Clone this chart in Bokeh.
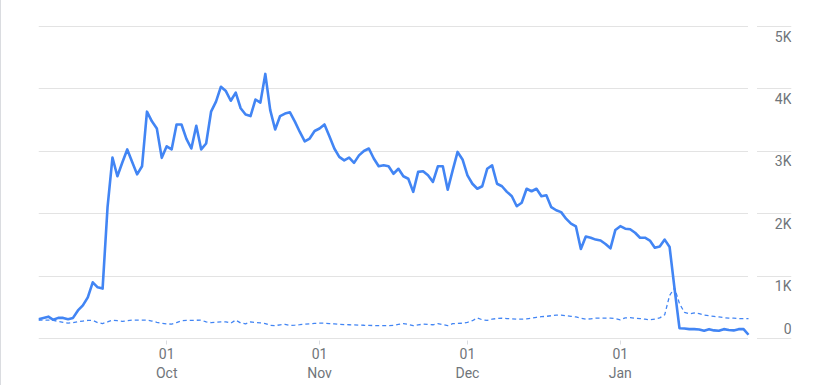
import pandas as pd
from bokeh.plotting import figure
from bokeh.models import Range1d, FixedTicker, DatetimeTickFormatter, BoxAnnotation, ColumnDataSource
from bokeh.core.properties import value
from bokeh.embed import file_html
from bokeh.resources import INLINE

# ---------------- data ----------------
dates = pd.date_range("2023-09-05", "2024-01-27", freq="D")

series_main = [
    310, 330, 350, 300, 330, 330, 310, 330, 450, 530,
    660, 900, 820, 800, 2100, 2900, 2600, 2820, 3030, 2830,
    2630, 2760, 3635, 3480, 3365, 2895, 3080, 3030, 3430, 3430,
    3200, 3045, 3410, 3030, 3125, 3635, 3795, 4035, 3965, 3810,
    3940, 3690, 3590, 3565, 3830, 3780, 4240, 3660, 3350, 3565,
    3605, 3625, 3475, 3310, 3160, 3205, 3325, 3365, 3430, 3240,
    3045, 2910, 2855, 2900, 2815, 2935, 3005, 3045, 2885, 2760,
    2775, 2760, 2640, 2720, 2600, 2560, 2350, 2670, 2680, 2615,
    2510, 2760, 2760, 2385, 2695, 2990, 2870, 2615, 2480, 2400,
    2440, 2720, 2775, 2480, 2440, 2350, 2280, 2120, 2175, 2400,
    2360, 2400, 2280, 2295, 2105, 2055, 2025, 1920, 1840, 1795,
    1435, 1635, 1615, 1585, 1570, 1515, 1445, 1740, 1800, 1760,
    1750, 1695, 1615, 1615, 1570, 1455, 1475, 1585, 1465, 800,
    165, 160, 150, 150, 145, 125, 150, 130, 125, 150,
    135, 130, 150, 150, 60,
]

series_dashed = [
    295, 295, 295, 290, 275, 260, 245, 255, 270, 280,
    290, 290, 255, 240, 265, 295, 285, 275, 285, 295,
    295, 295, 295, 280, 260, 245, 235, 230, 255, 285,
    290, 290, 292, 295, 265, 255, 262, 268, 268, 245,
    295, 250, 235, 265, 258, 250, 240, 210, 205, 220,
    228, 210, 215, 222, 230, 236, 242, 245, 245, 240,
    235, 228, 222, 220, 218, 215, 212, 210, 208, 205,
    205, 205, 210, 225, 240, 225, 205, 218, 230, 225,
    220, 238, 222, 205, 238, 242, 245, 260, 285, 330,
    300, 290, 310, 320, 325, 320, 315, 310, 310, 315,
    325, 340, 350, 355, 365, 375, 375, 365, 355, 345,
    325, 310, 315, 325, 325, 325, 325, 320, 300, 330,
    335, 325, 320, 310, 300, 310, 330, 380, 690, 810,
    560, 420, 395, 410, 400, 375, 365, 355, 345, 335,
    325, 325, 320, 320, 320,
]

month_ticks = ["2023-10-01", "2023-11-01", "2023-12-01", "2024-01-01"]
y_ticks = [0, 1000, 2000, 3000, 4000, 5000]
y_labels = ["0", "1K", "2K", "3K", "4K", "5K"]

assert len(series_main) == len(dates) == len(series_dashed)

# ---------------- layout ----------------
W, H = 819, 385
pad = 2                       # px of frame beyond the 0 and 5K lines
frame_left = 37
frame_right = 790
top_line, bottom_line = 26, 338
frame_top, frame_bottom = top_line - pad, bottom_line + pad
units_per_px = (y_ticks[-1] - y_ticks[0]) / (bottom_line - top_line)
y_lo = y_ticks[0] - pad * units_per_px
y_hi = y_ticks[-1] + pad * units_per_px

data_px = 710.0  # pixel span of the data inside the frame
frame_px = frame_right - frame_left
n_days = (dates[-1] - dates[0]).days
extra_days = n_days * (frame_px / data_px - 1.0)
px_per_day = data_px / n_days

def ms(ts):
    return pd.Timestamp(ts).value / 1e6

x_start = ms(dates[0])
x_end = ms(dates[-1] + pd.Timedelta(days=extra_days))

p = figure(
    width=W, height=H,
    x_axis_type="datetime",
    x_range=Range1d(x_start, x_end),
    y_range=Range1d(y_lo, y_hi),
    output_backend="svg",
    toolbar_location=None,
    min_border_left=frame_left,
    min_border_right=W - frame_right,
    min_border_top=frame_top,
    min_border_bottom=H - frame_bottom,
    background_fill_color="white",
    border_fill_color="white",
    styles={"border-left": "1px solid #dadce0"},
)
p.outline_line_color = None

# grid
p.xgrid.visible = False
p.yaxis.visible = False
p.ygrid.ticker = FixedTicker(ticks=y_ticks)
p.ygrid.grid_line_color = "#e3e3e3"
p.ygrid.grid_line_width = 1

# gap between plot grid and the label area
gap = BoxAnnotation(
    left=ms(dates[-1] - pd.Timedelta(days=0.5 / px_per_day)),
    right=ms(dates[-1] + pd.Timedelta(days=8.5 / px_per_day)),
    fill_color="white", fill_alpha=1.0, line_alpha=0.0, level="underlay",
)
p.add_layout(gap)

# x axis
xa = p.xaxis[0]
xa.ticker = FixedTicker(ticks=[ms(t) for t in month_ticks])
fmt = "%d\n%b"
xa.formatter = DatetimeTickFormatter(
    days=fmt, months=fmt, years=fmt, hours=fmt, minutes=fmt,
    hourmin=fmt, seconds=fmt, milliseconds=fmt, microseconds=fmt, minsec=fmt,
)
xa.axis_line_color = None
xa.major_tick_line_color = "#dadce0"
xa.major_tick_out = 6 - pad
xa.major_tick_in = 0
xa.minor_tick_line_color = None
xa.major_label_standoff = 1
xa.major_label_text_font = "Roboto"
xa.major_label_text_font_size = "14px"
xa.major_label_text_color = "#70757a"

# series
p.line(dates, series_dashed, line_color="#4285f4", line_width=1.3, line_dash="4 3")
p.line(dates, series_main, line_color="#4285f4", line_width=2.6, line_join="round")

# y labels on the right, inside the frame
lab = ColumnDataSource(dict(
    x=[x_end] * len(y_ticks),
    y=y_ticks,
    text=y_labels,
    yoff=[-10 if v == 0 else 10 for v in y_ticks],
))
p.text(x="x", y="y", text="text", y_offset="yoff", source=lab,
       text_align="right", text_baseline="middle",
       text_font=value("Roboto"), text_font_size=value("14px"), text_color="#70757a")

open("out.html", "w").write(file_html(p, INLINE))
